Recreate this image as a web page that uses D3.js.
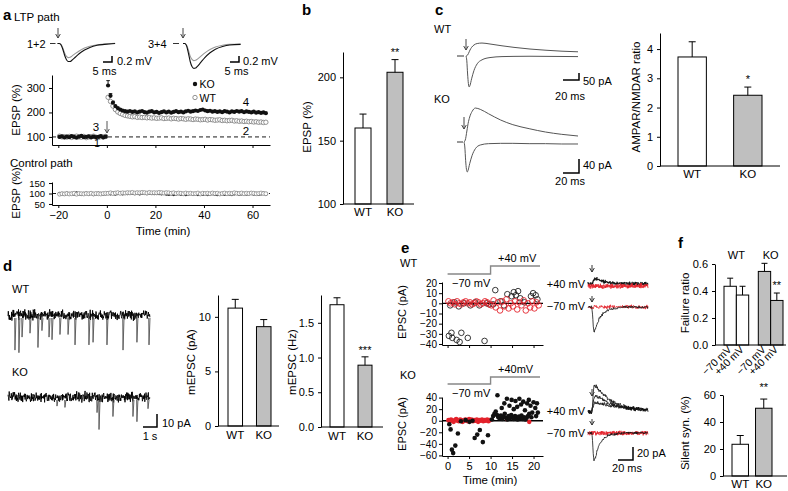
<!DOCTYPE html>
<html><head><meta charset="utf-8">
<script src="https://cdn.jsdelivr.net/npm/d3@7"></script>
<style>
body{margin:0;background:#fff}
svg{display:block;font-family:"Liberation Sans",Arial,Helvetica,sans-serif}
</style></head><body>
<svg id="c" width="788" height="491"></svg>
<script>
// ================= DATA =================
// Panel a: LTP time course (EPSP %, 1-min bins)
const aBaseTimes = d3.range(-19.5, 0, 1);
const aPostTimes = d3.range(0.5, 66, 1);
const aKOBase = [100,102,98,101,99,103,100,97,101,104,99,100,102,98,101,99,100,103,98,101];
const aWTBase = [103,100,101,99,102,98,101,103,100,99,102,97,100,101,103,99,98,101,100,102];
const aKOPost = [310,268,240,226,218,212,208,205,203,206,
  202,204,200,203,206,201,199,203,205,200,
  202,198,201,204,200,203,199,202,205,201,
  203,200,204,207,203,205,208,206,210,212,
  208,205,207,203,205,202,204,201,205,203,
  200,204,202,206,203,205,201,204,202,200,
  203,199,201,198,200,197];
const aWTPost = [262,245,226,212,202,196,192,188,186,184,
  182,183,180,181,179,180,178,179,177,178,
  176,177,178,175,176,177,174,176,175,173,
  175,174,172,174,173,171,173,172,170,171,
  172,169,171,170,168,169,170,167,168,166,
  167,168,165,166,164,165,163,164,162,163,
  161,162,160,161,159,160];
const aKOPostErr = [20,9,6];
const aCtlKO = [98,100,97,101,99,100,98,102,99,97,100,101,98,100,96,99,101,100,98,99,
  100,99,101,98,100,102,99,101,100,103,101,100,102,99,101,103,100,102,101,100,
  102,100,99,101,98,97,99,96,98,100,97,99,95,98,100,97,99,96,98,97,
  99,96,98,100,97,95,98,99,97,100,98,96,99,101,97,99,100,98,99,101,
  98,100,97,99,101,98];
const aCtlWT = [97,99,98,100,98,99,101,97,100,99,98,100,99,101,98,100,99,98,100,101,
  101,103,100,102,104,101,103,102,104,103,105,102,104,103,105,104,102,105,103,104,
  103,105,104,102,104,103,101,103,100,102,101,99,102,100,101,99,100,102,98,101,
  100,101,99,102,100,101,98,100,102,99,101,100,103,101,100,102,99,101,100,102,
  101,99,100,102,100,99];
const aTopTicks = [100,200,300];
const aCtlTicks = [50,100,150];
const aTimeTicks = [-20,0,20,40,60];
// example EPSP traces (ms, mV)
const trT = [0,1,2,3,4,5,6,7,8,10,12,15,18,22,26,32];
const tr1 = [0,0,-0.04,-0.16,-0.32,-0.43,-0.47,-0.46,-0.42,-0.33,-0.25,-0.15,-0.09,-0.04,-0.02,0.01];
const tr2 = [0,0,-0.05,-0.2,-0.4,-0.54,-0.6,-0.6,-0.56,-0.45,-0.34,-0.22,-0.13,-0.06,-0.03,0];
const tr3 = [0,0,-0.06,-0.22,-0.42,-0.53,-0.57,-0.56,-0.52,-0.42,-0.32,-0.2,-0.12,-0.06,-0.03,-0.02];
const tr4 = [0,0,-0.08,-0.32,-0.6,-0.77,-0.83,-0.82,-0.76,-0.62,-0.48,-0.31,-0.19,-0.1,-0.05,-0.03];

// Panel b
const groups = ["WT","KO"];
const bMeans = [160,204];
const bSEM = [11,10];
const bTicks = [100,150,200];

// Panel c traces (ms, pA) and ratio
const cT = [0,1,2,3,4,5,7,10,14,20,30,45,60,80,100,120,140];
const cWTup = [0,2,8,20,35,50,72,92,104,108,100,85,72,58,48,40,35];
const cWTdown = [0,-40,-150,-230,-258,-245,-190,-120,-65,-32,-13,-5,-3,-2,-3,-4,-5];
const cKOup = [0,3,10,25,40,55,75,92,102,98,85,66,52,40,30,23,18];
const cKOdown = [0,-15,-55,-82,-90,-85,-65,-40,-20,-9,-5,-4,-4,-5,-5,-6,-6];
const cMeans = [3.73,2.42];
const cSEM = [0.52,0.28];
const cTicks = [0,1,2,3,4];

// Panel d
const dWTEventT = [0.49,0.77,0.99,1.55,2.11,2.39,2.89,3.10,3.66,4.23,4.72,5.70,5.99,6.97,8.10,9.08,9.93];
const dWTEventA = [27,29,17,14,25,12,17,19,15,15,23,23,21,23,27,21,23];
const dKOEventT = [3.45,4.01,6.27,6.41,7.39,8.80,9.08,9.86];
const dKOEventA = [7,8,12,25,15,15,19,9];
const dAmp = [10.8,9.1];
const dAmpSEM = [0.8,0.65];
const dAmpTicks = [0,5,10];
const dFreq = [1.76,0.89];
const dFreqSEM = [0.10,0.12];
const dFreqTicks = [0,0.5,1.0,1.5];

// Panel e: EPSC over time (min, pA)
const eWTblack = [[0.3,-32],[0.9,-29],[1.1,-34],[2.1,-36],[2.8,-38],[3.2,-29],[4.7,-34],[8.6,-37],
  [0.6,-2],[1.6,1],[2.6,-3],[3.8,0],[5.3,-2],[6.4,1],[7.4,-2],[9.1,0],[9.7,-1],
  [11.1,13],[13.9,9],[14.9,7],[15.4,11],[15.9,8],[16.4,12],[16.9,5],[19.4,7],[19.9,10],[20.5,8],[20.9,4],
  [10.6,-1],[12.3,2],[13.1,-2],[17.9,1]];
const eWTred = [[0.2,2],[0.7,0],[1.2,1],[1.7,-1],[2.2,2],[2.7,0],[3.2,-1],[3.7,1],[4.2,2],[4.7,0],
  [5.2,1],[5.7,-1],[6.2,0],[6.7,2],[7.2,1],[7.7,-1],[8.2,0],[8.7,2],[9.2,1],[9.7,-1],
  [10.2,-2],[10.7,3],[11.2,-4],[11.7,1],[12.2,-7],[12.7,2],[13.2,-3],[13.7,4],[14.2,-5],[14.7,0],
  [15.2,-3],[15.7,2],[16.2,-6],[16.7,1],[17.2,-2],[17.7,3],[18.2,-7],[18.7,0],[19.2,-4],[19.7,2],
  [20.2,-5],[20.7,1],[21.2,-2]];
const eKOblack = [[0.4,-6],[0.7,-15],[1.0,-50],[1.3,-56],[1.8,-43],[2.4,-22],[6.3,-30],[6.9,-24],[7.5,-16],[8.2,-37],[9.4,-25],
  [3.1,-1],[4.2,1],[5.1,-2],[5.8,0],
  [10.3,2],[10.6,8],[10.9,12],[11.2,16],[11.5,10],[11.8,6],[12.1,4],[12.4,9],[12.7,3],[13.0,7],
  [13.3,12],[13.6,5],[13.9,2],[14.2,8],[14.5,4],[14.8,10],[15.1,6],[15.4,3],[15.7,8],[16.0,5],
  [16.3,2],[16.6,7],[16.9,4],[17.2,9],[17.5,3],[17.8,6],[18.1,2],[18.4,5],[18.7,8],
  [11.6,44],[12.6,22],[13.2,30],[13.8,38],[14.4,26],[14.9,36],[15.4,20],[15.8,34],[16.2,24],[16.7,38],
  [17.1,28],[17.6,33],[18.0,18],[18.5,30],[18.9,36],[19.3,26],[19.7,14],[20.0,32],[20.4,22],[20.8,30],
  [21.0,14],[20.6,8],[19.5,6],[19.0,12]];
const eKOred = [[0.2,1],[0.5,-1],[0.8,2],[1.1,0],[1.4,-2],[1.7,1],[2.0,3],[2.3,0],[2.6,-1],[2.9,2],
  [3.2,1],[3.5,-2],[3.8,0],[4.1,2],[4.4,1],[4.7,-1],[5.0,3],[5.3,0],[5.6,2],[5.9,-1],
  [6.2,1],[6.5,0],[6.8,2],[7.1,-2],[7.4,1],[7.7,0],[8.0,2],[8.3,-1],[8.6,1],[8.9,0],
  [9.2,2],[9.5,-1],[9.8,1],[13.8,3],[19.0,-2]];
const eWTTicks = [-40,-30,-20,-10,0,10,20];
const eKOTicks = [-60,-40,-20,0,20,40];
const eTimeTicks = [0,5,10,15,20];
// example EPSC traces (ms, pA)
const eT = [0,2,4,5,6,7,8,10,12,15,20,25,30,40,50,60,70,80];
const eFail = [0,0,0,0,0,0,0,0,0,0,0,0,0,0,0,0,0,0];
const eWTp40 = [0,0,0,0,2,5,7,8,7.5,6,4,3,2,1,0.5,0.5,0,0];
const eWTm70 = [0,0,0,0,-10,-30,-38,-34,-26,-18,-10,-6,-3,-1,0,0,0,0];
const eKOp40a = [0,0,0,0,10,30,40,41,38,34,28,22,18,12,8,6,5,4];
const eKOp40b = [0,0,0,0,5,15,22,25,24,22,19,16,13,9,7,5,4,3];
const eKOp40c = [0,0,0,0,3,8,12,14,14,13,12,11,10,8,6,5,4,3];
const eKOm70 = [0,0,0,0,-12,-32,-42,-38,-28,-18,-10,-5,-3,-1,0,0,0,0];

// Panel f
const fConds = ["\u221270 mV","+40 mV"];
const fFail = [[0.435,0.37],[0.545,0.33]];
const fFailSEM = [[0.06,0.065],[0.06,0.055]];
const fFailTicks = [0,0.2,0.4,0.6];
const fSilent = [23.5,50.2];
const fSilentSEM = [6.5,6.8];
const fSilentTicks = [0,20,40,60];

// ================= DRAWING =================
const svg = d3.select("#c");
const FONT = '"Liberation Sans", Arial, Helvetica, sans-serif';
const GRAYBAR = "#bfbfbf";
const RED = "#e3222b";

function txt(x, y, s, o = {}) {
  const t = svg.append("text").attr("x", x).attr("y", y).text(s)
    .attr("font-size", o.size || 11).attr("fill", o.fill || "#000")
    .attr("text-anchor", o.anchor || "start").attr("font-family", FONT);
  if (o.bold) t.attr("font-weight", "bold");
  if (o.rotate != null) t.attr("transform", `rotate(${o.rotate},${x},${y})`);
  return t;
}
function yAxis(x, scale, ticks, fmt, fs, pad) {
  const g = svg.append("g").attr("transform", `translate(${x},0)`)
    .call(d3.axisLeft(scale).tickValues(ticks).tickSize(3).tickSizeOuter(0).tickPadding(pad == null ? 4 : pad)
      .tickFormat(fmt || d3.format("d")));
  g.attr("font-size", fs || 11).attr("font-family", FONT);
  g.selectAll("path,line").attr("stroke", "#000");
  return g;
}
function xAxis(y, scale, ticks, labels, fmt) {
  const ax = d3.axisBottom(scale).tickValues(ticks).tickSize(3).tickSizeOuter(0).tickPadding(3);
  ax.tickFormat(labels ? (fmt || d3.format("d")) : () => "");
  const g = svg.append("g").attr("transform", `translate(0,${y})`).call(ax);
  g.attr("font-size", 11).attr("font-family", FONT);
  g.selectAll("path,line").attr("stroke", "#000");
  return g;
}
function hline(x1, x2, y, w = 1, col = "#000") {
  svg.append("line").attr("x1", x1).attr("x2", x2).attr("y1", y).attr("y2", y)
    .attr("stroke", col).attr("stroke-width", w);
}
function vline(x, y1, y2, w = 1, col = "#000") {
  svg.append("line").attr("x1", x).attr("x2", x).attr("y1", y1).attr("y2", y2)
    .attr("stroke", col).attr("stroke-width", w);
}
function arrow(x, y1, y2, col = "#444") {
  vline(x, y1, y2, 1, col);
  svg.append("path").attr("d", `M${x - 2.3},${y2 - 4}L${x},${y2}L${x + 2.3},${y2 - 4}`)
    .attr("fill", "none").attr("stroke", col).attr("stroke-width", 1);
}
function bars(xs, ys, means, sems, fills) {
  means.forEach((m, i) => {
    const x = xs(groups[i]), w = xs.bandwidth();
    svg.append("rect").attr("x", x).attr("y", ys(m)).attr("width", w)
      .attr("height", ys(ys.domain()[0]) - ys(m))
      .attr("fill", fills[i]).attr("stroke", "#000").attr("stroke-width", 1);
    const cx = x + w / 2;
    vline(cx, ys(m), ys(m + sems[i]));
    hline(cx - 3.5, cx + 3.5, ys(m + sems[i]));
  });
}
function scaleBar(xr, yb, yt, xl) {
  svg.append("path").attr("d", `M${xl},${yb}L${xr},${yb}L${xr},${yt}`)
    .attr("fill", "none").attr("stroke", "#000").attr("stroke-width", 1.5);
}
function hn(i, s) { const v = Math.sin(i * 127.1 + s * 311.7) * 43758.5453; return v - Math.floor(v) - 0.5; }

// ---------- Panel a ----------
txt(3, 20, "a", { bold: true, size: 15 });
txt(14, 21, "LTP path", { size: 11.5 });
const ax = d3.scaleLinear().domain([-22.6, 67.2]).range([52, 270]);
const ayTop = d3.scaleLinear().domain([67, 353]).range([145, 75]);
const ayCtl = d3.scaleLinear().domain([45, 155]).range([205, 182]);

function epspTraces(x0, a, b) {
  const tx = d3.scaleLinear().domain([0, 32]).range([x0, x0 + 57.6]);
  const ty = d3.scaleLinear().domain([0, -1]).range([43.5, 73.5]);
  const ln = d3.line().x((d, i) => tx(trT[i])).y(d => ty(d)).curve(d3.curveMonotoneX);
  svg.append("path").attr("d", ln(a)).attr("fill", "none").attr("stroke", "#999").attr("stroke-width", 1.1);
  svg.append("path").attr("d", ln(b)).attr("fill", "none").attr("stroke", "#111").attr("stroke-width", 1.1);
}
txt(27, 47.5, "1+2", { size: 11 });
hline(50, 55.5, 43.5, 1, "#333");
arrow(58, 28, 38);
epspTraces(57.5, tr1, tr2);
scaleBar(112, 62, 56, 103);
txt(117, 65, "0.2 mV", { size: 11 });
txt(104.5, 75, "5 ms", { size: 11, anchor: "middle" });

txt(148, 47.5, "3+4", { size: 11 });
hline(173, 179, 43.5, 1, "#333");
arrow(183, 28, 38);
epspTraces(183, tr3, tr4);
scaleBar(239, 62, 56, 230);
txt(243, 65, "0.2 mV", { size: 11 });
txt(236.5, 75, "5 ms", { size: 11, anchor: "middle" });

yAxis(52, ayTop, aTopTicks);
xAxis(145, ax, aTimeTicks, false);
svg.append("line").attr("x1", 52).attr("x2", 270).attr("y1", ayTop(100)).attr("y2", ayTop(100))
  .attr("stroke", "#000").attr("stroke-width", 0.9).attr("stroke-dasharray", "4,3");
txt(20, 110, "EPSP (%)", { size: 11.5, anchor: "middle", rotate: -90 });

const wtAll = aBaseTimes.map((t, i) => [t, aWTBase[i]]).concat(aPostTimes.map((t, i) => [t, aWTPost[i]]));
const koAll = aBaseTimes.map((t, i) => [t, aKOBase[i]]).concat(aPostTimes.map((t, i) => [t, aKOPost[i]]));
aKOPostErr.forEach((e, i) => {
  const x = ax(aPostTimes[i]);
  vline(x, ayTop(aKOPost[i]), ayTop(aKOPost[i] + e), 0.9);
  hline(x - 1.8, x + 1.8, ayTop(aKOPost[i] + e), 0.9);
});
svg.append("g").selectAll("circle").data(wtAll).join("circle")
  .attr("cx", d => ax(d[0])).attr("cy", d => ayTop(d[1])).attr("r", 2.2)
  .attr("fill", "#fff").attr("stroke", "#777").attr("stroke-width", 0.8);
svg.append("g").selectAll("circle").data(koAll).join("circle")
  .attr("cx", d => ax(d[0])).attr("cy", d => ayTop(d[1])).attr("r", 2.1)
  .attr("fill", "#111");
svg.append("circle").attr("cx", 195).attr("cy", 84).attr("r", 2.2).attr("fill", "#111");
txt(199.5, 88, "KO", { size: 10.5 });
svg.append("circle").attr("cx", 195).attr("cy", 97.5).attr("r", 2.2).attr("fill", "#fff").attr("stroke", "#777").attr("stroke-width", 0.8);
txt(199.5, 101.5, "WT", { size: 10.5 });
txt(246, 106, "4", { size: 11.5, anchor: "middle" });
txt(246, 135, "2", { size: 11.5, anchor: "middle" });
txt(96, 131, "3", { size: 11.5, anchor: "middle" });
txt(97, 147, "1", { size: 10, anchor: "middle" });
arrow(107, 121, 133, "#555");

txt(10, 167, "Control path", { size: 11.5 });
yAxis(52, ayCtl, aCtlTicks, null, 9.5);
xAxis(205, ax, aTimeTicks, true);
svg.append("line").attr("x1", 52).attr("x2", 270).attr("y1", ayCtl(100)).attr("y2", ayCtl(100))
  .attr("stroke", "#000").attr("stroke-width", 0.9).attr("stroke-dasharray", "4,3");
txt(20, 193, "EPSP (%)", { size: 11.5, anchor: "middle", rotate: -90 });
const allT = aBaseTimes.concat(aPostTimes);
svg.append("g").selectAll("circle").data(allT).join("circle")
  .attr("cx", d => ax(d)).attr("cy", (d, i) => ayCtl(aCtlKO[i])).attr("r", 1.8).attr("fill", "#111");
svg.append("g").selectAll("circle").data(allT).join("circle")
  .attr("cx", d => ax(d)).attr("cy", (d, i) => ayCtl(aCtlWT[i])).attr("r", 2)
  .attr("fill", "#fff").attr("stroke", "#888").attr("stroke-width", 0.8);
txt(163, 235, "Time (min)", { size: 11.5, anchor: "middle" });

// ---------- Panel b ----------
txt(302, 15, "b", { bold: true, size: 15 });
const by = d3.scaleLinear().domain([100, 220]).range([204, 52]);
const bx = d3.scaleBand().domain(groups).range([355, 403]).paddingInner(0.5);
bars(bx, by, bMeans, bSEM, ["#fff", GRAYBAR]);
yAxis(343, by, bTicks);
hline(343, 414, 204);
groups.forEach(g => txt(bx(g) + bx.bandwidth() / 2, 216, g, { size: 11.5, anchor: "middle" }));
txt(bx("KO") + bx.bandwidth() / 2, 56, "**", { size: 11, anchor: "middle" });
txt(311, 127, "EPSP (%)", { size: 11.5, anchor: "middle", rotate: -90 });

// ---------- Panel c ----------
txt(435, 15, "c", { bold: true, size: 15 });
txt(434, 33, "WT", { size: 11 });
txt(434, 103, "KO", { size: 11 });
function cTraces(x0, base, pxPerPA, up, down) {
  const tx = d3.scaleLinear().domain([0, 140]).range([x0, 578]);
  const ty = d3.scaleLinear().domain([0, 100]).range([base, base - 100 * pxPerPA]);
  const ln = d3.line().x((d, i) => tx(cT[i])).y(d => ty(d)).curve(d3.curveMonotoneX);
  svg.append("path").attr("d", ln(up)).attr("fill", "none").attr("stroke", "#555").attr("stroke-width", 1);
  svg.append("path").attr("d", ln(down)).attr("fill", "none").attr("stroke", "#555").attr("stroke-width", 1);
}
hline(457, 464, 56, 1, "#333");
arrow(466, 39, 50);
cTraces(466, 56, 0.12, cWTup, cWTdown);
scaleBar(579, 80, 73, 563);
txt(583, 85, "50 pA", { size: 11 });
txt(570, 100, "20 ms", { size: 11, anchor: "middle" });

hline(457, 463, 142, 1, "#333");
arrow(464, 117, 129);
cTraces(464, 142, 0.333, cKOup, cKOdown);
scaleBar(579, 173, 159, 563);
txt(583, 169, "40 pA", { size: 11 });
txt(570, 185, "20 ms", { size: 11, anchor: "middle" });

const cy = d3.scaleLinear().domain([0, 4.55]).range([166, 33]);
const cx = d3.scaleBand().domain(groups).range([678, 762]).paddingInner(0.49);
bars(cx, cy, cMeans, cSEM, ["#fff", GRAYBAR]);
yAxis(660, cy, cTicks);
hline(660, 780, 166);
groups.forEach(g => txt(cx(g) + cx.bandwidth() / 2, 178, g, { size: 11.5, anchor: "middle" }));
txt(cx("KO") + cx.bandwidth() / 2, 83, "*", { size: 11, anchor: "middle" });
txt(640, 97, "AMPAR/NMDAR ratio", { size: 11.5, anchor: "middle", rotate: -90 });

// ---------- Panel d ----------
txt(3, 271, "d", { bold: true, size: 15 });
txt(12, 293, "WT", { size: 11 });
txt(12, 376, "KO", { size: 11 });
const dxs = d3.scaleLinear().domain([0, 10]).range([8, 150]);
function mepsc(base, evT, evA, seed) {
  const pts = [];
  let i = 0;
  for (let x = 8; x <= 150; x += 0.3, i++) {
    pts.push([x, base + (hn(i, seed) + hn(i, seed + 3.3)) * 6.2]);
  }
  svg.append("path").attr("d", d3.line()(pts)).attr("fill", "none").attr("stroke", "#000").attr("stroke-width", 0.9);
  const ay = d3.scaleLinear().domain([0, 10]).range([base, base + 13]);
  evT.forEach((t, k) => {
    const x = dxs(t);
    svg.append("path").attr("d", `M${x - 0.3},${base + 3}L${x},${ay(evA[k])}L${x + 1},${base + 3}`)
      .attr("fill", "none").attr("stroke", "#555").attr("stroke-width", 0.9);
  });
}
mepsc(315, dWTEventT, dWTEventA, 1);
mepsc(397, dKOEventT, dKOEventA, 5);
scaleBar(157, 427, 414, 143);
txt(162, 427, "10 pA", { size: 11 });
txt(150, 440, "1 s", { size: 11, anchor: "middle" });

const dAy = d3.scaleLinear().domain([0, 12]).range([426, 295]);
const dAx = d3.scaleBand().domain(groups).range([228, 271]).paddingInner(0.49);
bars(dAx, dAy, dAmp, dAmpSEM, ["#fff", GRAYBAR]);
yAxis(218, dAy, dAmpTicks);
hline(218, 279, 426);
groups.forEach(g => txt(dAx(g) + dAx.bandwidth() / 2, 439, g, { size: 11.5, anchor: "middle" }));
txt(195, 362, "mEPSC (pA)", { size: 11.5, anchor: "middle", rotate: -90 });

const dFy = d3.scaleLinear().domain([0, 1.9]).range([427, 295]);
const dFx = d3.scaleBand().domain(groups).range([330, 372]).paddingInner(0.5);
bars(dFx, dFy, dFreq, dFreqSEM, ["#fff", GRAYBAR]);
yAxis(321, dFy, dFreqTicks, d3.format(".1f"));
hline(321, 383, 427);
groups.forEach(g => txt(dFx(g) + dFx.bandwidth() / 2, 440, g, { size: 11.5, anchor: "middle" }));
txt(dFx("KO") + dFx.bandwidth() / 2, 354, "***", { size: 11, anchor: "middle" });
txt(296, 362, "mEPSC (Hz)", { size: 11.5, anchor: "middle", rotate: -90 });

// ---------- Panel e ----------
txt(401, 253, "e", { bold: true, size: 15 });
const ex = d3.scaleLinear().domain([-1.3, 22.2]).range([442, 543]);
const eyW = d3.scaleLinear().domain([-41, 21]).range([345, 282]);
const eyK = d3.scaleLinear().domain([-61, 41]).range([456, 397]);
function stepLine(yLow, yHigh) {
  svg.append("path").attr("d", `M${ex(0)},${yLow}L${ex(10)},${yLow}L${ex(10)},${yHigh}L${540},${yHigh}`)
    .attr("fill", "none").attr("stroke", "#888").attr("stroke-width", 1.4);
}
txt(400, 267, "WT", { size: 11 });
stepLine(274, 266);
txt(498, 262, "+40 mV", { size: 11 });
txt(452, 287, "\u221270 mV", { size: 11 });
yAxis(442, eyW, eWTTicks, null, 10, 2);
xAxis(345, ex, eTimeTicks, false);
hline(442, 543, eyW(0), 1.4);
svg.append("g").selectAll("circle").data(eWTblack).join("circle")
  .attr("cx", d => ex(d[0])).attr("cy", d => eyW(d[1])).attr("r", 2.8)
  .attr("fill", "none").attr("stroke", "#222").attr("stroke-width", 0.9);
svg.append("g").selectAll("circle").data(eWTred).join("circle")
  .attr("cx", d => ex(d[0])).attr("cy", d => eyW(d[1])).attr("r", 2.8)
  .attr("fill", "none").attr("stroke", RED).attr("stroke-width", 0.9);
txt(406, 312, "EPSC (pA)", { size: 11, anchor: "middle", rotate: -90 });

txt(400, 379, "KO", { size: 11 });
stepLine(384, 377);
txt(498, 373, "+40mV", { size: 11 });
txt(452, 397, "\u221270 mV", { size: 11 });
yAxis(442, eyK, eKOTicks, null, 10, 2);
xAxis(456, ex, eTimeTicks, true);
hline(442, 543, eyK(0), 1.4);
svg.append("g").selectAll("circle").data(eKOred).join("circle")
  .attr("cx", d => ex(d[0])).attr("cy", d => eyK(d[1])).attr("r", 2.3).attr("fill", RED);
svg.append("g").selectAll("circle").data(eKOblack).join("circle")
  .attr("cx", d => ex(d[0])).attr("cy", d => eyK(d[1])).attr("r", 2.3).attr("fill", "#111");
txt(406, 424, "EPSC (pA)", { size: 11, anchor: "middle", rotate: -90 });
txt(490, 484, "Time (min)", { size: 11.5, anchor: "middle" });

const etx = d3.scaleLinear().domain([0, 80]).range([588, 648]);
function eTrace(base, vals, col, seed, amp) {
  const f = d3.scaleLinear().domain(eT).range(vals);
  const ty = d3.scaleLinear().domain([0, 20]).range([base, base - 13]);
  const pts = [];
  let i = 0;
  for (let t = 0; t <= 80; t += 0.5, i++) {
    pts.push([etx(t), ty(f(t)) + (hn(i, seed) + hn(i, seed + 2.7)) * amp]);
  }
  svg.append("path").attr("d", d3.line()(pts)).attr("fill", "none").attr("stroke", col).attr("stroke-width", 0.8);
}
txt(585, 288, "+40 mV", { size: 11, anchor: "end" });
txt(585, 310, "\u221270 mV", { size: 11, anchor: "end" });
eTrace(284, eWTp40, "#111", 11, 2.4);
eTrace(284, eWTp40, "#111", 12, 2.4);
eTrace(286, eFail, RED, 13, 3);
eTrace(286, eFail, RED, 14, 3);
eTrace(307, eFail, RED, 15, 2.4);
eTrace(307, eWTm70, "#111", 16, 1.6);
arrow(592, 265, 272, "#333");
arrow(592, 296, 302, "#333");

txt(585, 415, "+40 mV", { size: 11, anchor: "end" });
txt(585, 437, "\u221270 mV", { size: 11, anchor: "end" });
eTrace(412, eKOp40a, "#111", 21, 2.4);
eTrace(412, eKOp40b, "#111", 22, 2.4);
eTrace(412, eKOp40c, "#111", 23, 2.4);
eTrace(433, eFail, RED, 24, 2.6);
eTrace(433, eFail, RED, 25, 2.6);
eTrace(433, eKOm70, "#111", 26, 1.4);
arrow(592, 389, 396, "#333");
arrow(592, 419, 425, "#333");
scaleBar(633, 460, 447, 618);
txt(637, 457, "20 pA", { size: 11 });
txt(627, 472, "20 ms", { size: 11, anchor: "middle" });

// ---------- Panel f ----------
txt(678, 248, "f", { bold: true, size: 15 });
const fy = d3.scaleLinear().domain([0, 0.6]).range([345, 264]);
const fgx = d3.scaleBand().domain(groups).range([724, 783]).paddingInner(0.28);
const fsx = d3.scaleBand().domain(fConds).range([0, fgx.bandwidth()]);
groups.forEach((g, gi) => {
  txt(fgx(g) + fgx.bandwidth() / 2, 259, g, { size: 11, anchor: "middle" });
  fConds.forEach((c, ci) => {
    const x = fgx(g) + fsx(c), w = fsx.bandwidth(), m = fFail[gi][ci], e = fFailSEM[gi][ci];
    svg.append("rect").attr("x", x).attr("y", fy(m)).attr("width", w).attr("height", fy(0) - fy(m))
      .attr("fill", gi === 0 ? "#fff" : GRAYBAR).attr("stroke", "#000").attr("stroke-width", 1);
    vline(x + w / 2, fy(m), fy(m + e));
    hline(x + w / 2 - 3, x + w / 2 + 3, fy(m + e));
    txt(x + w / 2 + 2, 350, c, { size: 10.5, anchor: "end", rotate: -45 });
  });
});
yAxis(715, fy, fFailTicks, d3.format(".1f"));
hline(715, 786, 345);
txt(fgx("KO") + fsx("+40 mV") + fsx.bandwidth() / 2, 289, "**", { size: 11, anchor: "middle" });
txt(689, 303, "Failure ratio", { size: 11.5, anchor: "middle", rotate: -90 });

const sy = d3.scaleLinear().domain([0, 60]).range([476, 395]);
const sx = d3.scaleBand().domain(groups).range([732, 772]).paddingInner(0.3);
bars(sx, sy, fSilent, fSilentSEM, ["#fff", GRAYBAR]);
yAxis(723, sy, fSilentTicks);
hline(723, 787, 476);
groups.forEach(g => txt(sx(g) + sx.bandwidth() / 2, 488, g, { size: 11.5, anchor: "middle" }));
txt(sx("KO") + sx.bandwidth() / 2, 391, "**", { size: 11, anchor: "middle" });
txt(689, 433, "Silent syn. (%)", { size: 11.5, anchor: "middle", rotate: -90 });
</script>
</body></html>
